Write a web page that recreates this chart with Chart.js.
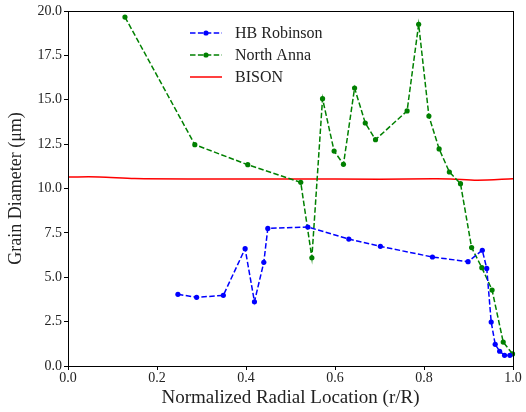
<!DOCTYPE html>
<html>
<head>
<meta charset="utf-8">
<script src="https://cdn.jsdelivr.net/npm/chart.js@4"></script>
<style>
  html, body { margin: 0; padding: 0; background: #fff; }
  #wrap { width: 526px; height: 412px; }
</style>
</head>
<body>
<div id="wrap"><canvas id="grainChart" width="526" height="412"></canvas></div>
<script>
// HB Robinson measurements
const robinsonX = [0.247, 0.289, 0.349, 0.398, 0.419, 0.440, 0.449, 0.539, 0.631, 0.702,
  0.819, 0.899, 0.931, 0.941, 0.951, 0.960, 0.970, 0.981, 0.993];
const robinsonY = [4.04, 3.87, 3.98, 6.61, 3.62, 5.84, 7.75, 7.83, 7.15, 6.74,
  6.14, 5.88, 6.52, 5.50, 2.48, 1.22, 0.83, 0.60, 0.60];

// North Anna measurements
const annaX = [0.128, 0.285, 0.404, 0.523, 0.548, 0.572, 0.598, 0.619, 0.644, 0.668,
  0.691, 0.762, 0.788, 0.811, 0.834, 0.857, 0.882, 0.907, 0.930, 0.953, 0.978, 0.999];
const annaY = [19.66, 12.47, 11.34, 10.35, 6.10, 15.06, 12.11, 11.36, 15.66, 13.69,
  12.75, 14.37, 19.25, 14.08, 12.23, 10.93, 10.27, 6.67, 5.54, 4.28, 1.35, 0.68];

// BISON prediction
const bisonX = [0, 0.07, 0.15, 0.3, 0.5, 0.7, 0.82, 0.86, 0.92, 1.0];
const bisonY = [10.65, 10.65, 10.56, 10.54, 10.54, 10.52, 10.55, 10.54, 10.47, 10.55];

const xTicks = [0, 0.2, 0.4, 0.6, 0.8, 1.0];
const yTicks = [0, 2.5, 5, 7.5, 10, 12.5, 15, 17.5, 20];

const serif = "'Liberation Serif', 'DejaVu Serif', serif";
const textColor = "#222";

function toPoints(xs, ys) {
  return xs.map((x, i) => ({ x: x, y: ys[i] }));
}

// box around the plot area, like matplotlib spines
const framePlugin = {
  id: "frame",
  afterDatasetsDraw(chart) {
    const { ctx, chartArea } = chart;
    ctx.save();
    ctx.strokeStyle = "#000";
    ctx.lineWidth = 1;
    ctx.strokeRect(chartArea.left + 0.5, chartArea.top + 0.5,
      chartArea.right - chartArea.left, chartArea.bottom - chartArea.top);
    ctx.restore();
  },
};

// legend drawn inside the plot area
const legendPlugin = {
  id: "innerLegend",
  afterDraw(chart) {
    const ctx = chart.ctx;
    const x0 = 190, x1 = 222, tx = 235;
    const rows = [33, 55, 77];
    ctx.save();
    chart.data.datasets.forEach((ds, i) => {
      const y = rows[i];
      ctx.strokeStyle = ds.borderColor;
      ctx.lineWidth = ds.borderWidth;
      ctx.setLineDash(ds.borderDash || []);
      ctx.beginPath();
      ctx.moveTo(x0, y);
      ctx.lineTo(x1, y);
      ctx.stroke();
      ctx.setLineDash([]);
      if (ds.pointRadius > 0) {
        ctx.fillStyle = ds.borderColor;
        ctx.beginPath();
        ctx.arc((x0 + x1) / 2, y, ds.pointRadius, 0, Math.PI * 2);
        ctx.fill();
      }
      ctx.fillStyle = textColor;
      ctx.font = "16px " + serif;
      ctx.textBaseline = "middle";
      ctx.fillText(ds.label, tx, y + 1);
    });
    ctx.restore();
  },
};

const dashed = [5.5, 2.4];

new Chart(document.getElementById("grainChart").getContext("2d"), {
  type: "scatter",
  data: {
    datasets: [
      {
        label: "HB Robinson",
        data: toPoints(robinsonX, robinsonY),
        showLine: true,
        borderColor: "#0000ff",
        backgroundColor: "#0000ff",
        borderWidth: 1.5,
        borderDash: dashed,
        pointRadius: 2.6,
        pointBorderWidth: 0,
      },
      {
        label: "North Anna",
        data: toPoints(annaX, annaY),
        showLine: true,
        borderColor: "#008000",
        backgroundColor: "#008000",
        borderWidth: 1.5,
        borderDash: dashed,
        pointRadius: 2.6,
        pointBorderWidth: 0,
      },
      {
        label: "BISON",
        data: toPoints(bisonX, bisonY),
        showLine: true,
        borderColor: "#ff0000",
        backgroundColor: "#ff0000",
        borderWidth: 1.5,
        pointRadius: 0,
        tension: 0.3,
      },
    ],
  },
  options: {
    responsive: false,
    animation: false,
    clip: false,
    layout: { padding: { top: 11, right: 13, left: 0, bottom: 0 } },
    plugins: {
      legend: { display: false },
      tooltip: { enabled: false },
    },
    scales: {
      x: {
        type: "linear",
        min: 0,
        max: 1,
        afterBuildTicks: (axis) => {
          axis.ticks = xTicks.map((v) => ({ value: v }));
        },
        afterFit: (axis) => {
          axis.height = 46;
        },
        grid: {
          drawOnChartArea: false,
          tickLength: 4,
          tickColor: "#000",
          color: "#000",
        },
        border: { color: "#000" },
        ticks: {
          color: textColor,
          font: { family: serif, size: 14 },
          padding: 0,
          maxRotation: 0,
          callback: (v) => v.toFixed(1),
        },
        title: {
          display: true,
          text: "Normalized Radial Location (r/R)",
          color: textColor,
          font: { family: serif, size: 19 },
          padding: { top: 0, bottom: 3 },
        },
      },
      y: {
        type: "linear",
        min: 0,
        max: 20,
        afterBuildTicks: (axis) => {
          axis.ticks = yTicks.map((v) => ({ value: v }));
        },
        afterFit: (axis) => {
          axis.width = 68;
        },
        grid: {
          drawOnChartArea: false,
          tickLength: 4,
          tickColor: "#000",
          color: "#000",
        },
        border: { color: "#000" },
        ticks: {
          color: textColor,
          font: { family: serif, size: 14 },
          padding: 2,
          callback: (v) => v.toFixed(1),
        },
        title: {
          display: true,
          text: "Grain Diameter (μm)",
          color: textColor,
          font: { family: serif, size: 18 },
          padding: { top: 5, bottom: 2 },
        },
      },
    },
  },
  plugins: [framePlugin, legendPlugin],
});
</script>
</body>
</html>
